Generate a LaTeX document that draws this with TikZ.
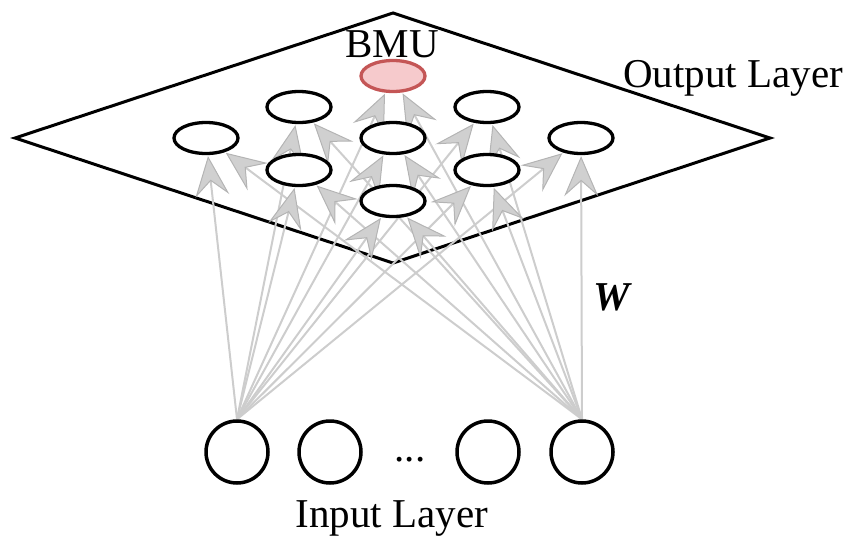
\documentclass[tikz,border=0pt]{standalone}
\usepackage{fontspec}
\setmainfont{Liberation Serif}
\usetikzlibrary{arrows.meta,shapes.geometric,backgrounds}
\definecolor{wire}{RGB}{205,205,205}
\definecolor{tipfill}{RGB}{208,208,208}
\definecolor{tipedge}{RGB}{180,180,180}
\definecolor{bmufill}{RGB}{246,202,204}
\definecolor{bmuedge}{RGB}{196,86,86}
\tikzset{
  unit/.style={ellipse, draw, line width=3.3pt, fill=white,
    minimum width=64pt, minimum height=31pt, inner sep=0pt},
  bmu/.style={unit, draw=bmuedge, fill=bmufill},
  inunit/.style={circle, draw, line width=3.5pt, minimum size=62pt, inner sep=0pt},
  weight/.style={draw=wire, line width=2pt, shorten >=1pt,
    -{Stealth[length=40pt, width=34pt, inset=15pt, fill=tipfill, color=tipedge, line width=1pt]}},
  lbl/.style={font=\fontsize{41}{48}\selectfont, inner sep=0pt, anchor=base}
}
\begin{document}
\begin{tikzpicture}[x=1pt, y=-1pt]
\useasboundingbox (0,0) rectangle (858,535);

% output map units (3x3 grid seen in perspective)
\node[bmu]  (o1) at (393,76)  {};
\node[unit] (o2) at (299,107) {};
\node[unit] (o3) at (487,107) {};
\node[unit] (o4) at (206,138) {};
\node[unit] (o5) at (393,138) {};
\node[unit] (o6) at (581,138) {};
\node[unit] (o7) at (299,170) {};
\node[unit] (o8) at (487,170) {};
\node[unit] (o9) at (393,201) {};

% input units
\node[inunit] (i1) at (237,452) {};
\node[inunit] (i2) at (330,452) {};
\node[inunit] (i3) at (488,452) {};
\node[inunit] (i4) at (582,452) {};
\node[lbl] (dots) at (410,461) {...};

% labels
\node[lbl] (bmutxt) at (392,57)  {BMU};
\node[lbl] (outtxt) at (733,87)  {Output Layer};
\node[lbl] (intxt)  at (392,527) {Input Layer};
\node[lbl, font=\fontsize{41}{48}\selectfont\bfseries\itshape] (wtxt) at (612,310) {W};

\begin{scope}[on background layer]
  % output layer plane
  \coordinate (pl) at (15,138);
  \coordinate (pt) at (393,13);
  \coordinate (pr) at (770,138);
  \coordinate (pb) at (393,263);
  \draw[line width=3pt, line join=miter] (pl) -- (pt) -- (pr) -- (pb) -- cycle;
  % weights from the first and last input to every map unit
  \foreach \k in {1,...,9} {
    \draw[weight] (i1.north) -- (o\k);
    \draw[weight] (i4.north) -- (o\k);
  }
\end{scope}
\end{tikzpicture}
\end{document}
